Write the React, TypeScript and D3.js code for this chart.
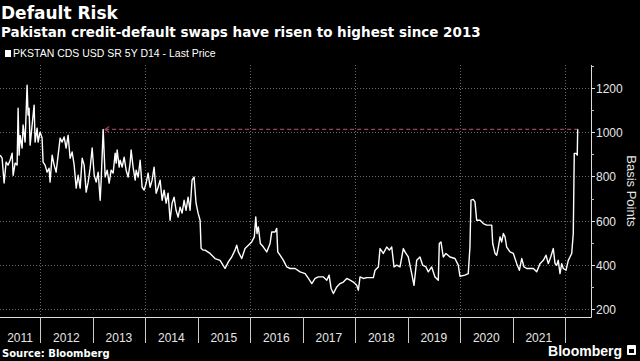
import { useEffect, useRef } from 'react'
import * as d3 from 'd3'

// Pakistan 5Y CDS (decimal year, bps)
const cdsHistory: [number, number][] = [
  [2011.238, 896], [2011.276, 882], [2011.314, 770], [2011.352, 864], [2011.39, 851],
  [2011.429, 873], [2011.467, 905], [2011.486, 805], [2011.524, 860], [2011.562, 851],
  [2011.581, 1108], [2011.6, 896], [2011.619, 985], [2011.657, 928], [2011.676, 1032],
  [2011.714, 955], [2011.752, 1212], [2011.771, 1077], [2011.79, 1108], [2011.81, 941],
  [2011.848, 1032], [2011.886, 1122], [2011.905, 955], [2011.943, 1018], [2011.962, 955],
  [2012.0, 1000], [2012.038, 973], [2012.057, 864], [2012.095, 851], [2012.133, 819],
  [2012.171, 837], [2012.19, 774], [2012.229, 896], [2012.267, 851], [2012.305, 819],
  [2012.343, 896], [2012.381, 973], [2012.419, 955], [2012.457, 978], [2012.495, 928],
  [2012.533, 986], [2012.571, 882], [2012.61, 910], [2012.648, 851], [2012.686, 747],
  [2012.724, 805], [2012.762, 747], [2012.8, 882], [2012.838, 851], [2012.876, 729],
  [2012.914, 774], [2012.952, 837], [2012.99, 928], [2013.029, 805], [2013.067, 774],
  [2013.105, 819], [2013.143, 692], [2013.162, 783], [2013.2, 1012], [2013.219, 905],
  [2013.238, 797], [2013.276, 828], [2013.314, 770], [2013.352, 828], [2013.39, 815],
  [2013.429, 905], [2013.448, 860], [2013.467, 919], [2013.505, 842], [2013.524, 873],
  [2013.562, 842], [2013.6, 887], [2013.638, 828], [2013.676, 797], [2013.714, 860],
  [2013.733, 919], [2013.771, 842], [2013.81, 783], [2013.829, 828], [2013.867, 797],
  [2013.905, 873], [2013.943, 751], [2013.981, 738], [2014.019, 770], [2014.057, 815],
  [2014.095, 751], [2014.133, 783], [2014.171, 842], [2014.21, 724], [2014.248, 751],
  [2014.286, 783], [2014.324, 692], [2014.362, 738], [2014.4, 679], [2014.438, 724],
  [2014.476, 602], [2014.514, 679], [2014.552, 706], [2014.59, 647], [2014.629, 616],
  [2014.667, 661], [2014.705, 634], [2014.743, 692], [2014.781, 647], [2014.819, 706],
  [2014.857, 647], [2014.895, 783], [2014.933, 797], [2014.971, 679], [2015.01, 634],
  [2015.048, 602], [2015.067, 476], [2015.105, 467], [2015.143, 467], [2015.238, 452],
  [2015.333, 429], [2015.429, 421], [2015.524, 384], [2015.587, 414], [2015.651, 436],
  [2015.714, 467], [2015.746, 489], [2015.777, 459], [2015.842, 429], [2015.905, 474],
  [2015.968, 489], [2016.032, 504], [2016.082, 527], [2016.109, 617], [2016.133, 542],
  [2016.158, 572], [2016.196, 497], [2016.254, 481], [2016.318, 459], [2016.381, 497],
  [2016.413, 549], [2016.476, 549], [2016.508, 565], [2016.527, 459], [2016.571, 444],
  [2016.635, 421], [2016.699, 391], [2016.762, 384], [2016.857, 384], [2016.952, 369],
  [2017.048, 361], [2017.111, 339], [2017.175, 316], [2017.238, 339], [2017.301, 346],
  [2017.397, 346], [2017.461, 331], [2017.505, 354], [2017.543, 294], [2017.587, 271],
  [2017.651, 301], [2017.714, 316], [2017.777, 323], [2017.842, 339], [2017.905, 331],
  [2017.968, 323], [2018.032, 308], [2018.063, 286], [2018.095, 346], [2018.158, 339],
  [2018.223, 343], [2018.349, 343], [2018.381, 376], [2018.444, 391], [2018.476, 474],
  [2018.539, 452], [2018.604, 481], [2018.653, 467], [2018.699, 481], [2018.743, 391],
  [2018.794, 399], [2018.857, 391], [2018.92, 474], [2018.952, 459], [2019.015, 436],
  [2019.08, 361], [2019.124, 308], [2019.175, 421], [2019.238, 436], [2019.289, 399],
  [2019.352, 391], [2019.396, 369], [2019.461, 391], [2019.524, 346], [2019.587, 331],
  [2019.606, 497], [2019.638, 504], [2019.682, 436], [2019.733, 452], [2019.81, 436],
  [2019.905, 429], [2019.968, 399], [2020.0, 349], [2020.095, 354], [2020.158, 361],
  [2020.19, 481], [2020.21, 693], [2020.253, 696], [2020.286, 685], [2020.318, 602],
  [2020.381, 602], [2020.413, 595], [2020.444, 587], [2020.508, 580], [2020.604, 580],
  [2020.623, 497], [2020.667, 452], [2020.699, 444], [2020.73, 481], [2020.762, 527],
  [2020.794, 504], [2020.825, 542], [2020.857, 527], [2020.889, 481], [2020.952, 459],
  [2021.015, 452], [2021.08, 406], [2021.13, 376], [2021.175, 429], [2021.219, 391],
  [2021.27, 384], [2021.333, 384], [2021.397, 384], [2021.461, 369], [2021.524, 406],
  [2021.587, 421], [2021.638, 444], [2021.682, 406], [2021.728, 436], [2021.777, 474],
  [2021.81, 406], [2021.842, 399], [2021.872, 421], [2021.905, 361], [2021.937, 406],
  [2021.968, 384], [2022.019, 376], [2022.063, 421], [2022.095, 436], [2022.128, 452],
  [2022.158, 542], [2022.177, 904], [2022.21, 904], [2022.234, 896], [2022.242, 1009],
  [2022.253, 1012]
]

const yTicks = [200, 400, 600, 800, 1000, 1200]
const yMinorTicks = [300, 500, 700, 900, 1100, 1300]
const yearLabels = [2011, 2012, 2013, 2014, 2015, 2016, 2017, 2018, 2019, 2020, 2021]
const gridYears = [2012, 2014, 2016, 2018, 2020, 2022]
const peak2013 = { year: 2013.2, value: 1012 }

const W = 640
const H = 361
const NARROW = '"Liberation Sans Narrow", "Liberation Sans", Arial, sans-serif'
const BOLD = '"DejaVu Sans", Verdana, sans-serif'

function fromDecimalYear(y: number) {
  const yr = Math.floor(y)
  const start = new Date(yr, 0, 1).getTime()
  const end = new Date(yr + 1, 0, 1).getTime()
  return new Date(start + (y - yr) * (end - start))
}

export default function App() {
  const ref = useRef<SVGSVGElement | null>(null)

  useEffect(() => {
    if (!ref.current) return
    const svg = d3.select(ref.current)
    svg.selectAll('*').remove()

    const plot = { left: 0, right: 591, top: 65, bottom: 317 }

    const x = d3
      .scaleTime()
      .domain([new Date(2011, 2, 28), new Date(2022, 6, 1)])
      .range([plot.left, plot.right])
    const y = d3.scaleLinear().domain([165, 1303]).range([plot.bottom, plot.top])

    svg.append('rect').attr('width', W).attr('height', H).attr('fill', '#000')

    // Titles
    svg.append('text')
      .attr('x', 1).attr('y', 19)
      .attr('fill', '#fff').attr('font-family', BOLD).attr('font-weight', 'bold')
      .attr('font-size', '17px')
      .text('Default Risk')
    svg.append('text')
      .attr('x', 1).attr('y', 37)
      .attr('fill', '#fff').attr('font-family', BOLD).attr('font-weight', 'bold')
      .attr('font-size', '13.5px')
      .text('Pakistan credit-default swaps have risen to highest since 2013')

    // Legend
    svg.append('rect').attr('x', 5).attr('y', 50).attr('width', 6).attr('height', 7).attr('fill', '#fff')
    svg.append('text')
      .attr('x', 13).attr('y', 57)
      .attr('fill', '#fff').attr('font-family', NARROW).attr('font-size', '10.5px')
      .text('PKSTAN CDS USD SR 5Y D14 - Last Price')

    // Grid
    const grid = svg.append('g').attr('stroke', '#6a6a6a').attr('stroke-width', 1).attr('stroke-dasharray', '1,2')
    yTicks.forEach((t) => {
      grid.append('line')
        .attr('x1', plot.left).attr('x2', plot.right)
        .attr('y1', Math.round(y(t)) + 0.5).attr('y2', Math.round(y(t)) + 0.5)
    })
    gridYears.forEach((yr) => {
      const gx = Math.round(x(new Date(yr, 0, 1))) + 0.5
      grid.append('line').attr('x1', gx).attr('x2', gx).attr('y1', plot.top).attr('y2', plot.bottom)
    })

    // Axes frame
    svg.append('line')
      .attr('x1', plot.right + 0.5).attr('x2', plot.right + 0.5)
      .attr('y1', plot.top).attr('y2', plot.bottom + 0.5)
      .attr('stroke', '#ddd').attr('stroke-width', 1)
    svg.append('line')
      .attr('x1', plot.left).attr('x2', plot.right + 0.5)
      .attr('y1', plot.bottom + 0.5).attr('y2', plot.bottom + 0.5)
      .attr('stroke', '#ddd').attr('stroke-width', 1)

    // Y ticks and labels
    yTicks.forEach((t) => {
      const ty = Math.round(y(t)) + 0.5
      svg.append('line')
        .attr('x1', plot.right).attr('x2', plot.right + 4)
        .attr('y1', ty).attr('y2', ty)
        .attr('stroke', '#ddd')
      svg.append('text')
        .attr('x', plot.right + 5).attr('y', ty)
        .attr('dominant-baseline', 'central')
        .attr('fill', '#e6e6e6').attr('font-family', NARROW).attr('font-size', '12px')
        .text(String(t))
    })
    yMinorTicks.forEach((t) => {
      const ty = Math.round(y(t)) + 0.5
      svg.append('line')
        .attr('x1', plot.right).attr('x2', plot.right + 3)
        .attr('y1', ty).attr('y2', ty)
        .attr('stroke', '#bbb')
    })

    svg.append('text')
      .attr('transform', `translate(627,${(plot.top + plot.bottom) / 2}) rotate(90)`)
      .attr('text-anchor', 'middle')
      .attr('fill', '#e6e6e6').attr('font-family', NARROW).attr('font-size', '13px')
      .text('Basis Points')

    // Year separators and labels
    const xStart = x.domain()[0]
    const xEnd = x.domain()[1]
    for (let yr = 2012; yr <= 2022; yr++) {
      const sx = Math.round(x(new Date(yr, 0, 1))) + 0.5
      svg.append('line')
        .attr('x1', sx).attr('x2', sx)
        .attr('y1', plot.bottom).attr('y2', plot.bottom + 26)
        .attr('stroke', '#ccc')
    }
    yearLabels.forEach((yr) => {
      const a = d3.max([new Date(yr, 0, 1), xStart]) as Date
      const b = d3.min([new Date(yr + 1, 0, 1), xEnd]) as Date
      svg.append('text')
        .attr('x', (x(a) + x(b)) / 2).attr('y', plot.bottom + 25)
        .attr('text-anchor', 'middle')
        .attr('fill', '#e6e6e6').attr('font-family', NARROW).attr('font-size', '12px')
        .text(String(yr))
    })

    // Reference line back to the 2013 high
    const lastDate = fromDecimalYear(cdsHistory[cdsHistory.length - 1][0])
    const peakX = x(fromDecimalYear(peak2013.year))
    const peakY = y(peak2013.value)
    svg.append('line')
      .attr('x1', peakX + 2).attr('x2', x(lastDate))
      .attr('y1', peakY).attr('y2', peakY)
      .attr('stroke', '#9a4358').attr('stroke-width', 1.2).attr('stroke-dasharray', '4,3')
    svg.append('path')
      .attr('d', `M${peakX + 6},${peakY - 3} L${peakX + 2},${peakY} L${peakX + 6},${peakY + 3}`)
      .attr('fill', 'none').attr('stroke', '#9a4358').attr('stroke-width', 1.2)

    // Series
    const line = d3
      .line<[number, number]>()
      .x((d) => x(fromDecimalYear(d[0])))
      .y((d) => y(d[1]))
    svg.append('path')
      .datum(cdsHistory)
      .attr('d', line)
      .attr('fill', 'none')
      .attr('stroke', '#fff')
      .attr('stroke-width', 1.4)
      .attr('stroke-linejoin', 'round')

    // Footer
    svg.append('text')
      .attr('x', 2).attr('y', 357)
      .attr('fill', '#fff').attr('font-family', BOLD).attr('font-weight', 'bold')
      .attr('font-size', '10px')
      .text('Source: Bloomberg')
    svg.append('text')
      .attr('x', 622).attr('y', 356)
      .attr('text-anchor', 'end')
      .attr('fill', '#fff').attr('font-family', '"Liberation Sans", Arial, sans-serif').attr('font-weight', 'bold')
      .attr('font-size', '14px')
      .text('Bloomberg')
    svg.append('rect').attr('x', 627).attr('y', 345).attr('width', 9).attr('height', 10).attr('rx', 1).attr('fill', '#fff')
    svg.append('rect').attr('x', 629).attr('y', 349).attr('width', 5).attr('height', 4).attr('fill', '#000')
  }, [])

  return (
    <svg
      ref={ref}
      width={W}
      height={H}
      style={{ position: 'fixed', left: 0, top: 0, display: 'block' }}
    />
  )
}
